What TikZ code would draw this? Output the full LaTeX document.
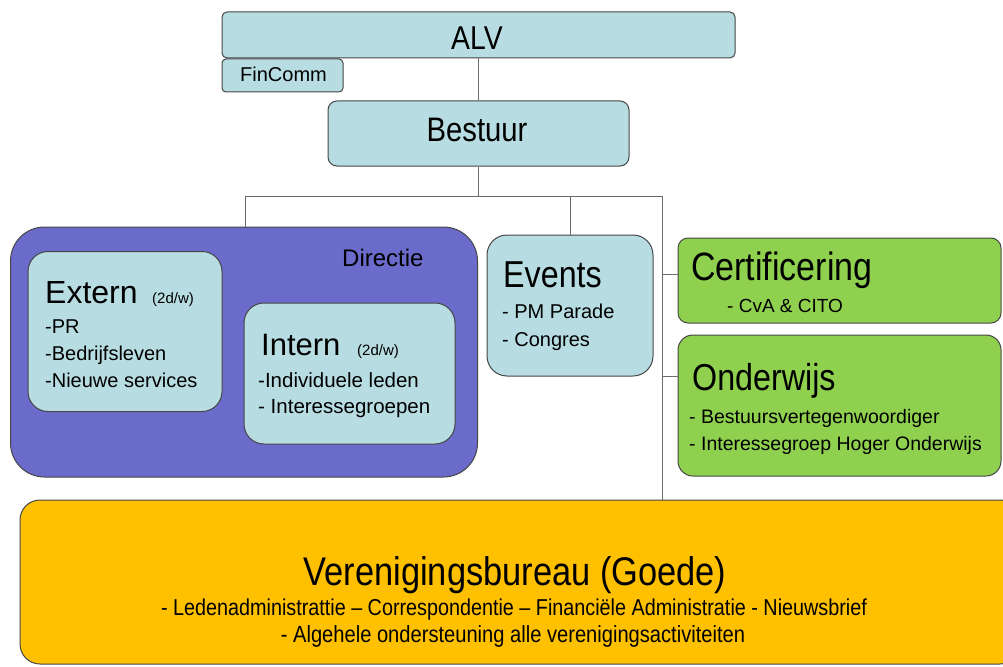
\documentclass[tikz,border=0pt]{standalone}
\usepackage{fontspec}
\setmainfont{Liberation Sans}
\newfontfamily\narrowfont{Liberation Sans}[FakeStretch=0.86, Ligatures=TeX]
\usepackage{tikz}
\usetikzlibrary{calc}

\definecolor{boxblue}{RGB}{183,221,226}
\definecolor{boxpurple}{RGB}{107,107,204}
\definecolor{boxgreen}{RGB}{143,209,79}
\definecolor{boxorange}{RGB}{255,192,0}
\definecolor{rim}{RGB}{70,70,70}

\tikzset{
	box/.style={shape=rectangle, draw=rim, line width=1pt, inner sep=0pt},
	wire/.style={draw=rim!80, line width=1pt},
	txt/.style={inner sep=0pt, anchor=base west},
	list/.style={inner sep=0pt, anchor=north west, align=left}
}

\begin{document}
\begin{tikzpicture}[x=1pt, y=-1pt]
			\useasboundingbox (0,0) rectangle (1003,666);
			% Boxes:
			\node[box, fill=boxblue, rounded corners=5pt, minimum width=513pt, minimum height=46pt](ALV) at (478.5, 35){};
			\node[box, fill=boxblue, rounded corners=4pt, minimum width=121pt, minimum height=33pt](FIN) at (282.5, 75.5){};
			\node[box, fill=boxblue, rounded corners=9pt, minimum width=301pt, minimum height=65pt](BES) at (478.5, 133.5){};
			\node[box, fill=boxpurple, rounded corners=34pt, minimum width=467pt, minimum height=250pt](DIR) at (244, 352){};
			\node[box, fill=boxblue, rounded corners=20pt, minimum width=194pt, minimum height=160pt](EXT) at (125, 331.5){};
			\node[box, fill=boxblue, rounded corners=20pt, minimum width=211pt, minimum height=141pt](INT) at (349.5, 373.5){};
			\node[box, fill=boxblue, rounded corners=20pt, minimum width=166pt, minimum height=141pt](EVT) at (570, 305.5){};
			\node[box, fill=boxgreen, rounded corners=10pt, minimum width=323pt, minimum height=85pt](CER) at (839.5, 280.5){};
			\node[box, fill=boxgreen, rounded corners=15pt, minimum width=323pt, minimum height=141pt](OND) at (839.5, 405.5){};
			\node[box, fill=boxorange, rounded corners=20pt, minimum width=1000pt, minimum height=164pt](VB) at (520, 582){};
			% Texts:
			\node[inner sep=0pt, anchor=base](T1) at (477, 50){\narrowfont\fontsize{33}{33}\selectfont ALV};
			\node[txt](T2) at (240, 82){\fontsize{20}{20}\selectfont FinComm};
			\node[inner sep=0pt, anchor=base](T3) at (477, 142){\narrowfont\fontsize{34}{34}\selectfont Bestuur};
			\node[txt](T4) at (342, 266){\fontsize{24}{24}\selectfont Directie};
			\node[txt](T5) at (45, 303){\fontsize{32}{32}\selectfont Extern};
			\node[txt](T6) at (152, 303){\fontsize{15}{15}\selectfont (2d/w)};
			\node[list, font=\fontsize{20}{27}\selectfont](T7) at (45, 320){-PR\\-Bedrijfsleven\\-Nieuwe services};
			\node[txt](T8) at (261, 355){\fontsize{31}{31}\selectfont Intern};
			\node[txt](T9) at (357, 355){\fontsize{15}{15}\selectfont (2d/w)};
			\node[list, font=\fontsize{20.5}{26}\selectfont](T10) at (258, 372){-Individuele leden\\- Interessegroepen};
			\node[txt](T11) at (503, 287){\narrowfont\fontsize{37.5}{37.5}\selectfont Events};
			\node[list, font=\fontsize{20}{28}\selectfont](T12) at (502, 304){- PM Parade\\- Congres};
			\node[txt](T13) at (691, 280){\narrowfont\fontsize{39.5}{39.5}\selectfont Certificering};
			\node[txt](T14) at (727, 312){\fontsize{19}{19}\selectfont - CvA \& CITO};
			\node[txt](T15) at (692, 390){\narrowfont\fontsize{37.5}{37.5}\selectfont Onderwijs};
			\node[list, font=\fontsize{19.5}{27}\selectfont](T16) at (689, 409){- Bestuursvertegenwoordiger\\- Interessegroep Hoger Onderwijs};
			\node[inner sep=0pt, anchor=base](T17) at (515, 585){\narrowfont\fontsize{40}{40}\selectfont Verenigingsbureau (Goede)};
			\node[inner sep=0pt, anchor=base](T18) at (514, 615){\narrowfont\fontsize{23}{23}\selectfont - Ledenadministrattie – Correspondentie – Financiële Administratie - Nieuwsbrief};
			\node[inner sep=0pt, anchor=base](T19) at (513, 642){\narrowfont\fontsize{23.4}{23.4}\selectfont - Algehele ondersteuning alle verenigingsactiviteiten};
			% Wires:
			\coordinate (J1) at (245, 196);
			\coordinate (J2) at (662, 196);
			\draw[wire] (ALV.south) -- (BES.north);
			\draw[wire] (BES.south) -- (BES.south |- J1);
			\draw[wire] (DIR.north -| J1) -- (J1) -- (J2) -- (J2 |- VB.north);
			\draw[wire] (EVT.north) -- (EVT.north |- J1);
			\draw[wire] ($(CER.north west)+(-16,37)$) -- ($(CER.north west)+(0,37)$);
			\draw[wire] ($(OND.north west)+(-16,42)$) -- ($(OND.north west)+(0,42)$);
\end{tikzpicture}
\end{document}
